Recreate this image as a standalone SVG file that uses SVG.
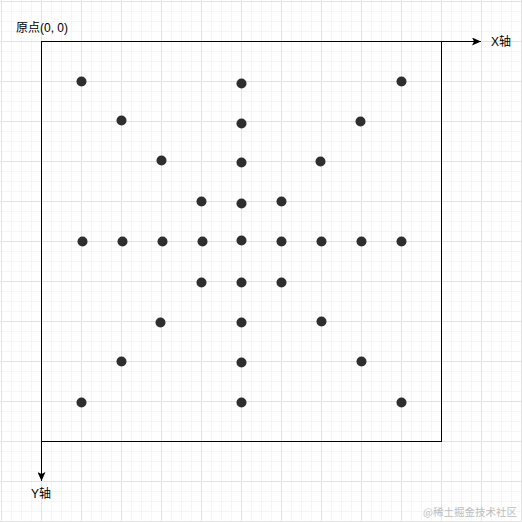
<svg xmlns="http://www.w3.org/2000/svg" width="522" height="522" viewBox="0 0 522 522">
<style>
.txt{font-family:"Liberation Sans","Noto Sans CJK SC",sans-serif;font-size:12px;fill:#000}
.wm{font-family:"Noto Sans CJK SC","Liberation Sans",sans-serif;font-size:10.5px;fill:#bdbdbd}
.dot{fill:#2e2e2e}
.axis{stroke:#000;stroke-width:1;fill:none}
</style>
<defs>
<pattern id="grid" patternUnits="userSpaceOnUse" x="1" y="1" width="40" height="40">
<path d="M10.5 0V40M20.5 0V40M30.5 0V40M0 10.5H40M0 20.5H40M0 30.5H40" stroke="#f5f5f5" stroke-width="1"/>
<path d="M0.5 0V40M0 0.5H40" stroke="#e2e2e2" stroke-width="1"/>
</pattern>
<marker id="arr" markerWidth="10" markerHeight="8" refX="9" refY="4" orient="auto" markerUnits="userSpaceOnUse">
<path d="M0 0L9 4L0 8L2 4Z" fill="#000"/>
</marker>
</defs>
<rect width="522" height="522" fill="#fff"/>
<rect width="522" height="522" fill="url(#grid)"/>
<g id="connectors">
<rect class="axis" x="41.5" y="41.5" width="400" height="400"/>
<line class="axis" x1="41.5" y1="41.5" x2="481" y2="41.5" marker-end="url(#arr)"/>
<line class="axis" x1="41.5" y1="41.5" x2="41.5" y2="481" marker-end="url(#arr)"/>
</g>
<g id="labels">
<text class="txt" x="16" y="32">原点(0, 0)</text>
<text class="txt" x="491" y="46">X轴</text>
<text class="txt" x="31" y="498">Y轴</text>
</g>
<g id="points">
<g id="p1"><circle class="dot" cx="81.5" cy="81.5" r="5"/></g>
<g id="p2"><circle class="dot" cx="241.5" cy="83.5" r="5"/></g>
<g id="p3"><circle class="dot" cx="401.5" cy="81.5" r="5"/></g>
<g id="p4"><circle class="dot" cx="121.5" cy="120.5" r="5"/></g>
<g id="p5"><circle class="dot" cx="241.5" cy="123.5" r="5"/></g>
<g id="p6"><circle class="dot" cx="360.5" cy="121.5" r="5"/></g>
<g id="p7"><circle class="dot" cx="161.5" cy="160.5" r="5"/></g>
<g id="p8"><circle class="dot" cx="241.5" cy="162.5" r="5"/></g>
<g id="p9"><circle class="dot" cx="320.5" cy="161.5" r="5"/></g>
<g id="p10"><circle class="dot" cx="201.5" cy="201.5" r="5"/></g>
<g id="p11"><circle class="dot" cx="241.5" cy="203.5" r="5"/></g>
<g id="p12"><circle class="dot" cx="281.5" cy="201.5" r="5"/></g>
<g id="p13"><circle class="dot" cx="82.5" cy="241.5" r="5"/></g>
<g id="p14"><circle class="dot" cx="122.5" cy="241.5" r="5"/></g>
<g id="p15"><circle class="dot" cx="162.5" cy="241.5" r="5"/></g>
<g id="p16"><circle class="dot" cx="202.5" cy="241.5" r="5"/></g>
<g id="p17"><circle class="dot" cx="241.5" cy="240.5" r="5"/></g>
<g id="p18"><circle class="dot" cx="281.5" cy="241.5" r="5"/></g>
<g id="p19"><circle class="dot" cx="321.5" cy="241.5" r="5"/></g>
<g id="p20"><circle class="dot" cx="361.5" cy="241.5" r="5"/></g>
<g id="p21"><circle class="dot" cx="401.5" cy="241.5" r="5"/></g>
<g id="p22"><circle class="dot" cx="201.5" cy="282.5" r="5"/></g>
<g id="p23"><circle class="dot" cx="241.5" cy="282.5" r="5"/></g>
<g id="p24"><circle class="dot" cx="281.5" cy="282.5" r="5"/></g>
<g id="p25"><circle class="dot" cx="160.5" cy="322.5" r="5"/></g>
<g id="p26"><circle class="dot" cx="241.5" cy="322.5" r="5"/></g>
<g id="p27"><circle class="dot" cx="321.5" cy="321.5" r="5"/></g>
<g id="p28"><circle class="dot" cx="121.5" cy="361.5" r="5"/></g>
<g id="p29"><circle class="dot" cx="241.5" cy="362.5" r="5"/></g>
<g id="p30"><circle class="dot" cx="361.5" cy="361.5" r="5"/></g>
<g id="p31"><circle class="dot" cx="81.5" cy="402.5" r="5"/></g>
<g id="p32"><circle class="dot" cx="241.5" cy="402.5" r="5"/></g>
<g id="p33"><circle class="dot" cx="401.5" cy="402.5" r="5"/></g>
</g>
<text class="wm" x="517" y="516" text-anchor="end">@稀土掘金技术社区</text>
</svg>
